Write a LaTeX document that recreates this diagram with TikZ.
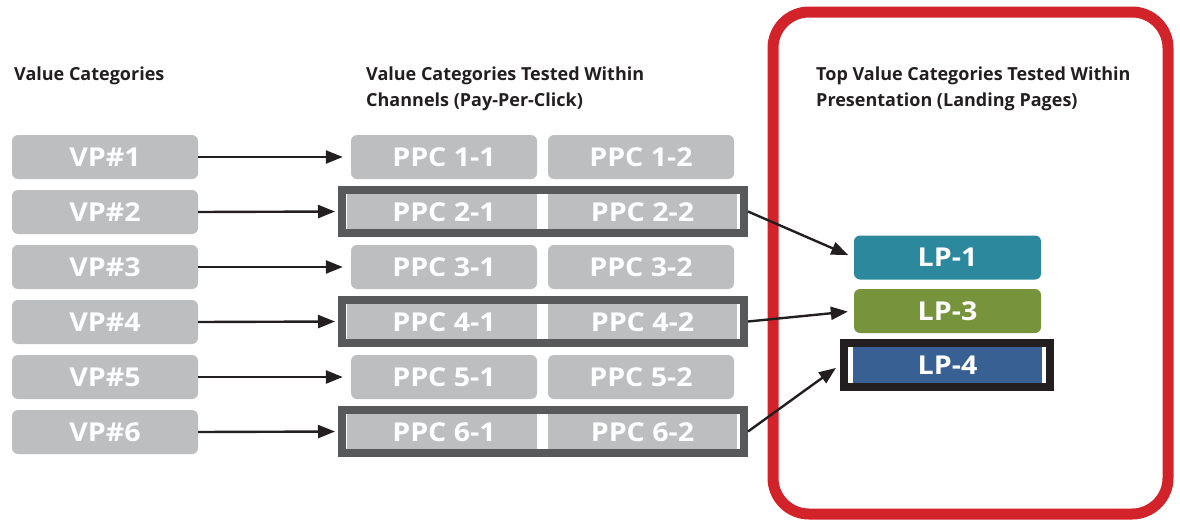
\documentclass[tikz,border=0pt]{standalone}
\usepackage{fontspec}
\setmainfont{Open Sans}
\newfontfamily\boxfont{Open Sans}[FakeStretch=1.1]
\usetikzlibrary{arrows.meta}
\definecolor{boxgray}{HTML}{BCBEC0}
\definecolor{framegray}{HTML}{58595B}
\definecolor{ink}{HTML}{231F20}
\definecolor{redline}{HTML}{D2232A}
\definecolor{lpteal}{HTML}{2B889D}
\definecolor{lpgreen}{HTML}{77933C}
\definecolor{lpblue}{HTML}{386092}
\begin{document}
\begin{tikzpicture}[x=1pt,y=-1pt,
  boxtext/.style={text=white,font=\boxfont\bfseries\fontsize{26}{26}\selectfont},
  vpbox/.style={boxtext,fill=boxgray,rounded corners=6pt,minimum width=186pt,minimum height=44pt,inner sep=0pt},
  sqbox/.style={boxtext,fill=boxgray,minimum height=36pt,inner sep=0pt},
  graybar/.style={draw=framegray,line width=8pt,minimum width=402pt,minimum height=43pt,inner sep=0pt},
  lpbox/.style={boxtext,rounded corners=6pt,minimum width=187pt,minimum height=44pt,inner sep=0pt},
  heading/.style={text=ink,font=\bfseries\fontsize{18}{26}\selectfont,align=left,inner sep=0pt,anchor=base west},
  conn/.style={draw=ink,line width=2.4pt,-{Triangle[length=17pt,width=13pt]}}]
\useasboundingbox (0,0) rectangle (1180,520);
% red frame
\draw[redline,line width=11pt,rounded corners=36pt] (773,12) rectangle (1168,514);
% headings
\node[heading] (h1) at (14,80) {Value Categories};
\node[heading] (h2) at (366,106) {Value Categories Tested Within\\Channels (Pay-Per-Click)};
\node[heading] (h3) at (816,106) {Top Value Categories Tested Within\\Presentation (Landing Pages)};
% VP boxes
\foreach \i in {1,...,6}{
  \node[vpbox] (vp\i) at (105,{157+55*(\i-1)}) {VP\#\i};
}
% plain PPC rows
\foreach \i in {1,3,5}{
  \node[vpbox] (p\i a) at (444,{157+55*(\i-1)}) {PPC \i-1};
  \node[vpbox] (p\i b) at (641,{157+55*(\i-1)}) {PPC \i-2};
  \draw[conn,shorten >=8pt] (vp\i.east) -- (p\i a.west);
}
% framed PPC rows
\foreach \i in {2,4,6}{
  \node[sqbox,minimum width=190pt] (p\i a) at (442,{157+55*(\i-1)}) {\hspace*{4pt}PPC \i-1};
  \node[sqbox,minimum width=189pt] (p\i b) at (642.5,{157+55*(\i-1)}) {PPC \i-2};
  \node[graybar] (f\i) at (543,{156.5+55*(\i-1)}) {};
  \draw[conn,shorten >=3pt] (vp\i.east) -- (f\i.west);
}
% landing pages
\node[lpbox,fill=lpteal] (lp1) at (947.5,257.5) {LP-1};
\node[lpbox,fill=lpgreen] (lp3) at (947.5,311) {LP-3};
\node[sqbox,fill=lpblue,minimum width=189pt] (lp4) at (947.5,365) {LP-4};
\node[draw=ink,line width=8pt,minimum width=206pt,minimum height=44pt,inner sep=0pt] (lp4f) at (947,365) {};
\draw[conn,shorten >=6pt] (f2.east) -- (lp1.west);
\draw[conn,shorten >=6pt] (f4.east) -- (lp3.west);
\draw[conn,shorten >=5pt] (f6.east) -- (lp4f.west);
\end{tikzpicture}
\end{document}
